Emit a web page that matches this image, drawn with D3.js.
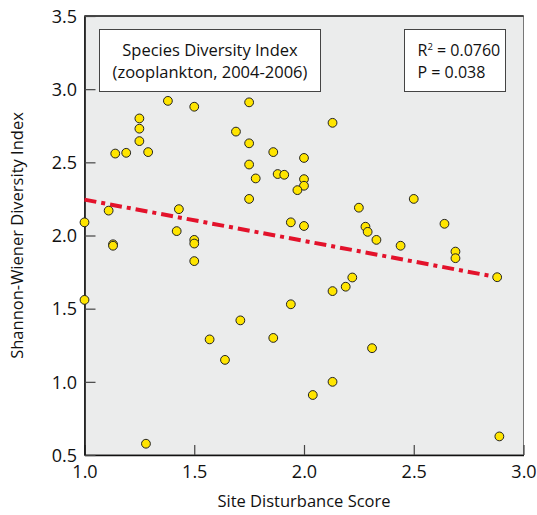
<!DOCTYPE html>
<html>
<head>
<meta charset="utf-8">
<script src="https://cdn.jsdelivr.net/npm/d3@7"></script>
<style>
  body { margin: 0; background: #fff; }
  text { font-family: "Open Sans", "Noto Sans", sans-serif; fill: #111; }
</style>
</head>
<body>
<script>
// site disturbance score (x) and Shannon-Wiener index (y)
var disturbance = [1.00, 1.11, 1.13, 1.13, 1.14, 1.19, 1.25, 1.25, 1.25, 1.29,
  1.38, 1.43, 1.42, 1.50, 1.50, 1.50, 1.69, 1.75, 1.75, 1.75,
  1.78, 1.75, 2.13, 1.86, 2.00, 1.88, 1.91, 2.00, 2.00, 1.97,
  1.94, 2.00, 2.50, 2.25, 2.28, 2.29, 2.33, 2.44, 2.64, 2.69,
  2.69, 1.50, 1.00, 1.57, 1.64, 1.71, 1.28, 2.88, 2.22, 2.19,
  2.13, 1.94, 1.86, 2.31, 2.13, 2.04, 2.89];
var diversity = [2.09, 2.17, 1.94, 1.93, 2.56, 2.565, 2.80, 2.73, 2.645, 2.57,
  2.92, 2.18, 2.03, 2.88, 1.97, 1.945, 2.71, 2.91, 2.63, 2.485,
  2.39, 2.25, 2.77, 2.57, 2.53, 2.42, 2.415, 2.385, 2.34, 2.31,
  2.09, 2.065, 2.25, 2.19, 2.06, 2.025, 1.97, 1.93, 2.08, 1.89,
  1.845, 1.825, 1.56, 1.29, 1.15, 1.42, 0.577, 1.715, 1.713, 1.65,
  1.62, 1.53, 1.30, 1.23, 1.00, 0.91, 0.627];

// fitted line end points
var fitX = [1.0, 2.88];
var fitY = [2.245, 1.715];

var xTicks = [1.0, 1.5, 2.0, 2.5, 3.0];
var yTicks = [0.5, 1.0, 1.5, 2.0, 2.5, 3.0, 3.5];

var titleLines = ["Species Diversity Index", "(zooplankton, 2004-2006)"];
var statR2 = "0.0760";
var statP = "0.038";

var svgWidth = 537;
var svgHeight = 515;
var margin = { top: 16, right: 13.5, bottom: 60, left: 84.5 };
var width = svgWidth - margin.left - margin.right;
var height = svgHeight - margin.top - margin.bottom;

var svg = d3.select("body")
  .append("svg")
  .attr("width", svgWidth)
  .attr("height", svgHeight);

var g = svg.append("g")
  .attr("transform", "translate(" + margin.left + "," + margin.top + ")");

var x = d3.scaleLinear().domain([1.0, 3.0]).range([0, width]);
var y = d3.scaleLinear().domain([0.5, 3.5]).range([height, 0]);

// plot background
g.append("rect")
  .attr("width", width)
  .attr("height", height)
  .attr("fill", "#ebecec")
  .attr("stroke", "#777")
  .attr("stroke-width", 1);
g.append("line")
  .attr("x1", 0).attr("x2", width)
  .attr("stroke", "#222").attr("stroke-width", 1.4);

// axes with inward ticks
var bottomAxis = d3.axisBottom(x).tickValues(xTicks).tickFormat(d3.format(".1f"))
  .tickSizeInner(-10).tickSizeOuter(0).tickPadding(10);
var leftAxis = d3.axisLeft(y).tickValues(yTicks).tickFormat(d3.format(".1f"))
  .tickSizeInner(-11).tickSizeOuter(0).tickPadding(7.5);

var xg = g.append("g")
  .attr("transform", "translate(0," + height + ")")
  .call(bottomAxis);
var yg = g.append("g").call(leftAxis);

[xg, yg].forEach(function(a) {
  a.select(".domain").attr("stroke", "#111").attr("stroke-width", 1.6);
  a.selectAll(".tick line").attr("stroke", "#444").attr("stroke-width", 1.2);
  a.selectAll(".tick text").style("font-size", "18px").attr("fill", "#111");
});
yg.selectAll(".tick text").attr("dy", "0.35em");

// regression line
g.append("line")
  .attr("x1", x(fitX[0])).attr("y1", y(fitY[0]))
  .attr("x2", x(fitX[1])).attr("y2", y(fitY[1]))
  .attr("stroke", "#e3122b")
  .attr("stroke-width", 4)
  .attr("stroke-dasharray", "12,5,4,5");

// points
g.selectAll("circle.pt")
  .data(disturbance.map(function(d, i) { return [d, diversity[i]]; }))
  .enter().append("circle")
  .attr("class", "pt")
  .attr("cx", function(d) { return x(d[0]); })
  .attr("cy", function(d) { return y(d[1]); })
  .attr("r", 4.4)
  .attr("fill", "#ffe500")
  .attr("stroke", "#222")
  .attr("stroke-width", 1);

// title box
var tb = g.append("g").attr("transform", "translate(15,13.5)");
tb.append("rect")
  .attr("width", 221).attr("height", 62)
  .attr("fill", "#fff").attr("stroke", "#444").attr("stroke-width", 1);
tb.selectAll("text")
  .data(titleLines)
  .enter().append("text")
  .attr("x", 110.5)
  .attr("y", function(d, i) { return 26 + i * 22; })
  .attr("text-anchor", "middle")
  .style("font-size", "16.5px")
  .text(function(d) { return d; });

// stats box
var sb = g.append("g").attr("transform", "translate(320,13.5)");
sb.append("rect")
  .attr("width", 101).attr("height", 62)
  .attr("fill", "#fff").attr("stroke", "#444").attr("stroke-width", 1);
var r2 = sb.append("text").attr("x", 13).attr("y", 26).style("font-size", "16px");
r2.append("tspan").text("R");
r2.append("tspan").attr("dy", -6).style("font-size", "9.5px").text("2");
r2.append("tspan").attr("dy", 6).text(" = " + statR2);
sb.append("text").attr("x", 13).attr("y", 48).style("font-size", "16px")
  .text("P = " + statP);

// axis titles
svg.append("text")
  .attr("x", margin.left + width / 2)
  .attr("y", 507)
  .attr("text-anchor", "middle")
  .style("font-size", "16.5px")
  .text("Site Disturbance Score");

svg.append("text")
  .attr("transform", "translate(23," + (margin.top + height / 2) + ") rotate(-90)")
  .attr("text-anchor", "middle")
  .style("font-size", "16.5px")
  .text("Shannon-Wiener Diversity Index");
</script>
</body>
</html>
